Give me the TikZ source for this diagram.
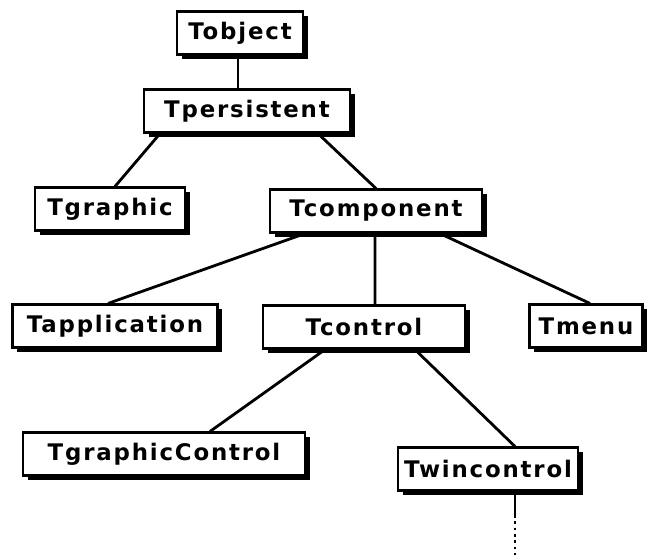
\documentclass[tikz,border=0pt]{standalone}
\usepackage{fontspec}
\setmainfont{DejaVu Sans}
\newfontfamily\clsfont[LetterSpace=8]{DejaVu Sans}
\usepackage{tikz}
\usetikzlibrary{shadows}

\begin{document}
\begin{tikzpicture}[line width=1.6pt]
\tikzstyle{cls}=[draw,line width=1.2pt,fill=white,minimum height=0.86cm,inner sep=0pt,
  font=\clsfont\bfseries\fontsize{13}{15}\selectfont,
  drop shadow={shadow xshift=2.6pt,shadow yshift=-2.6pt,fill=black,opacity=1}]
\useasboundingbox (0,0) rectangle (13.02,-11.1);
% class tree
\node[cls,minimum width=2.52cm] (tobject) at (4.8,-0.66) {Tobject};
\node[cls,minimum width=4.12cm] (tpersistent) at (4.94,-2.22) {Tpersistent};
\node[cls,minimum width=3.0cm] (tgraphic) at (2.2,-4.18) {Tgraphic};
\node[cls,minimum width=4.24cm] (tcomponent) at (7.52,-4.22) {Tcomponent};
\node[cls,minimum width=4.1cm] (tapplication) at (2.3,-6.52) {Tapplication};
\node[cls,minimum width=4.04cm] (tcontrol) at (7.28,-6.54) {Tcontrol};
\node[cls,minimum width=2.26cm] (tmenu) at (11.72,-6.52) {Tmenu};
\node[cls,minimum width=5.64cm] (tgraphiccontrol) at (3.28,-9.08) {TgraphicControl};
\node[cls,minimum width=3.6cm] (twincontrol) at (9.76,-9.38) {Twincontrol};
\coordinate (more) at ([xshift=0.54cm]twincontrol.south |- 0,-11.1);
\coordinate (dots) at ([xshift=0.54cm]twincontrol.south |- 0,-10.3);
% links
\draw ([xshift=-0.04cm]tobject.south) -- ([xshift=-0.04cm]tobject.south |- tpersistent.north);
\draw ([xshift=-1.74cm]tpersistent.south) -- ([xshift=0.1cm]tgraphic.north);
\draw ([xshift=1.42cm]tpersistent.south) -- (tcomponent.north);
\draw ([xshift=-1.42cm]tcomponent.south) -- ([xshift=-0.14cm]tapplication.north);
\draw ([xshift=-0.02cm]tcomponent.south) -- ([xshift=0.22cm]tcontrol.north);
\draw ([xshift=1.28cm]tcomponent.south) -- ([xshift=0.08cm]tmenu.north);
\draw ([xshift=-0.78cm]tcontrol.south) -- ([xshift=0.92cm]tgraphiccontrol.north);
\draw ([xshift=1.02cm]tcontrol.south) -- ([xshift=0.54cm]twincontrol.north);
\draw ([xshift=0.54cm]twincontrol.south) -- (dots);
\draw[dotted] (dots) -- (more);
\end{tikzpicture}
\end{document}
